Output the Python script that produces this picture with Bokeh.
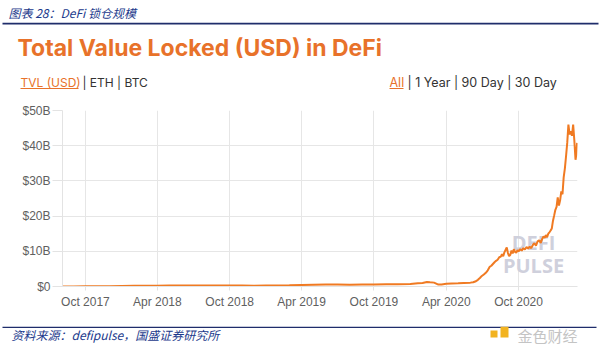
import pandas as pd
from bokeh.plotting import figure
from bokeh.layouts import column
from bokeh.models import Range1d, FixedTicker, Label, BoxAnnotation
from bokeh.embed import file_html
from bokeh.resources import INLINE

# ---- data (TVL in USD billions) ----
dates = [
    "2017-08-04", "2017-09-01", "2017-10-01", "2017-11-01", "2017-12-01",
    "2018-01-01", "2018-02-01", "2018-03-01", "2018-04-01", "2018-05-01",
    "2018-06-01", "2018-07-01", "2018-08-01", "2018-09-01", "2018-10-01",
    "2018-11-01", "2018-12-01", "2019-01-01", "2019-02-01", "2019-03-01",
    "2019-04-01", "2019-05-01", "2019-06-01", "2019-07-01", "2019-08-01",
    "2019-09-01", "2019-10-01", "2019-11-01", "2019-12-01", "2020-01-01",
    "2020-01-20", "2020-02-01", "2020-02-12", "2020-02-20", "2020-03-01",
    "2020-03-12", "2020-03-20", "2020-04-01", "2020-04-15", "2020-05-01",
    "2020-05-15", "2020-06-01", "2020-06-08", "2020-06-15", "2020-06-20",
    "2020-06-25", "2020-06-30", "2020-07-05", "2020-07-10", "2020-07-15",
    "2020-07-20", "2020-07-24", "2020-07-28", "2020-08-01", "2020-08-05",
    "2020-08-09", "2020-08-13", "2020-08-17", "2020-08-20", "2020-08-23",
    "2020-08-26", "2020-08-29", "2020-09-01", "2020-09-04", "2020-09-07",
    "2020-09-10", "2020-09-13", "2020-09-16", "2020-09-19", "2020-09-22",
    "2020-09-25", "2020-09-28", "2020-10-01", "2020-10-05", "2020-10-09",
    "2020-10-13", "2020-10-17", "2020-10-21", "2020-10-25", "2020-10-29",
    "2020-11-02", "2020-11-06", "2020-11-10", "2020-11-14", "2020-11-18",
    "2020-11-22", "2020-11-26", "2020-11-30", "2020-12-03", "2020-12-06",
    "2020-12-09", "2020-12-12", "2020-12-15", "2020-12-18", "2020-12-21",
    "2020-12-24", "2020-12-27", "2020-12-30", "2021-01-02", "2021-01-05",
    "2021-01-08", "2021-01-11", "2021-01-14", "2021-01-17", "2021-01-20",
    "2021-01-23", "2021-01-26", "2021-01-29", "2021-02-01", "2021-02-04",
    "2021-02-07", "2021-02-10", "2021-02-13", "2021-02-16", "2021-02-19",
    "2021-02-22", "2021-02-24", "2021-02-26",
]
tvl_bn = [
    0.02, 0.03, 0.04, 0.05, 0.08,
    0.15, 0.20, 0.22, 0.22, 0.30,
    0.30, 0.30, 0.28, 0.25, 0.28,
    0.25, 0.20, 0.25, 0.30, 0.35,
    0.45, 0.50, 0.55, 0.60, 0.50,
    0.55, 0.60, 0.65, 0.65, 0.70,
    0.90, 1.00, 1.30, 1.20, 1.10,
    0.55, 0.60, 0.75, 0.85, 0.90,
    1.00, 1.10, 1.20, 1.50, 1.90,
    2.40, 3.00, 3.40, 3.90, 4.60,
    5.60, 5.90, 6.40, 6.90, 7.30,
    7.60, 8.30, 8.50, 9.20, 8.60,
    9.70, 10.4, 11.1, 9.50, 8.60,
    9.00, 10.2, 9.40, 10.6, 9.80,
    9.60, 10.3, 10.0, 10.6, 10.2,
    10.9, 10.5, 11.2, 10.8, 11.3,
    10.9, 11.8, 12.3, 11.6, 12.8,
    13.1, 12.4, 13.6, 14.2, 13.8,
    14.6, 14.0, 15.0, 15.4, 15.9,
    16.5, 18.7, 20.2, 21.8, 22.6,
    25.3, 23.0, 24.5, 27.0, 26.2,
    31.0, 33.5, 37.0, 40.8, 46.0,
    43.2, 44.1, 42.8, 46.0, 41.5,
    36.0, 37.5, 40.8,
]
x_tick_dates = ["2017-10-01", "2018-04-01", "2018-10-01", "2019-04-01",
                "2019-10-01", "2020-04-01", "2020-10-01"]
x_tick_labels = ["Oct 2017", "Apr 2018", "Oct 2018", "Apr 2019",
                 "Oct 2019", "Apr 2020", "Oct 2020"]
y_ticks = [0, 10, 20, 30, 40, 50]
y_tick_labels = ["$0", "$10B", "$20B", "$30B", "$40B", "$50B"]

W = 600
TOP_H, MAIN_H, BOT_H = 100, 226, 26
navy = "#1c3a8c"
orange = "#e8722a"


def ms(d):
    return pd.Timestamp(d).value / 1e6


def text_panel(h):
    f = figure(width=W, height=h, output_backend="svg", toolbar_location=None,
               x_axis_location=None, y_axis_location=None,
               min_border=0, min_border_left=0, min_border_right=0,
               min_border_top=0, min_border_bottom=0,
               x_range=Range1d(0, W), y_range=Range1d(0, h))
    f.frame_align = False
    f.outline_line_color = None
    f.xgrid.visible = False
    f.ygrid.visible = False
    f.background_fill_color = "white"
    f.border_fill_color = "white"
    return f


def lab(f, y0, text, x, y, size, color, font="Inter", style="normal",
        align="left"):
    # x, y: page pixels from top-left (y = text baseline); y0 = panel top
    px = float(size.replace("px", ""))
    f.add_layout(Label(x=x, y=f.height - (y - y0) + 0.32 * px,
                       x_units="screen", y_units="screen", text=text,
                       text_font=font, text_font_size=size, text_color=color,
                       text_font_style=style, text_align=align,
                       text_baseline="alphabetic"))


def box(f, y0, l, r, t, b, color):
    f.add_layout(BoxAnnotation(left=l, right=r, top=f.height - (t - y0),
                               bottom=f.height - (b - y0),
                               left_units="screen", right_units="screen",
                               top_units="screen", bottom_units="screen",
                               fill_color=color, fill_alpha=1,
                               line_color=None))


# ---- header panel ----
top = text_panel(TOP_H)
lab(top, 0, "图表 28：DeFi 锁仓规模", 8, 16, "12px", navy,
    font="Noto Sans CJK SC", style="italic")
box(top, 0, 2, 598, 22.3, 24, "#1f2d6b")
lab(top, 0, "Total Value Locked (USD) in DeFi", 17, 55, "23px", orange,
    style="bold")
lab(top, 0, "TVL (USD)", 20, 86, "12px", orange)
box(top, 0, 20, 78, 87.5, 88.5, orange)
lab(top, 0, "|  ETH  |  BTC", 82, 86, "12px", "#333333")
lab(top, 0, "All", 389, 86, "12.5px", orange)
box(top, 0, 389, 403, 87.5, 88.5, orange)
lab(top, 0, "|  1 Year  |  90 Day  |  30 Day", 407, 86, "12.5px", "#333333")

# ---- chart ----
p = figure(width=W, height=MAIN_H, x_axis_type="datetime",
           output_backend="svg", toolbar_location=None,
           min_border_left=62, min_border_right=23,
           min_border_top=10, min_border_bottom=40,
           x_range=Range1d(ms("2017-08-04"), ms("2021-02-27")),
           y_range=Range1d(0, 50))
p.frame_align = False
p.outline_line_color = None
p.background_fill_color = "white"
p.border_fill_color = "white"

xs = pd.to_datetime(dates)
p.line(xs, tvl_bn, line_color="#f07a22", line_width=2)

tick_ms = [ms(d) for d in x_tick_dates]
p.xaxis.ticker = FixedTicker(ticks=tick_ms)
p.xaxis.major_label_overrides = {t: l for t, l in zip(tick_ms, x_tick_labels)}
p.yaxis.ticker = FixedTicker(ticks=y_ticks)
p.yaxis.major_label_overrides = {t: l for t, l in zip(y_ticks, y_tick_labels)}

for ax in (p.xaxis[0], p.yaxis[0]):
    ax.axis_line_color = "#e3e3e3"
    ax.major_tick_line_color = "#e3e3e3"
    ax.minor_tick_line_color = None
    ax.major_label_text_font = "Liberation Sans"
    ax.major_label_text_font_size = "12px"
    ax.major_label_text_color = "#606060"
p.yaxis.major_tick_out = 10
p.yaxis.major_tick_in = 0
p.yaxis.major_label_standoff = 2
p.xaxis.major_tick_out = 4
p.xaxis.major_tick_in = 0
p.xaxis.major_label_standoff = 4
p.xgrid.grid_line_color = "#e6e6e6"
p.ygrid.grid_line_color = "#e6e6e6"

# DeFi Pulse watermark inside the plot frame (frame-relative screen units)
for word, dy in (("DEFI", 44), ("PULSE", 21)):
    p.add_layout(Label(x=471, y=dy, x_units="screen", y_units="screen",
                       text=word, text_font="Open Sans", text_font_size="20px",
                       text_font_style="bold", text_color="#cfd0dc",
                       text_align="center", text_baseline="middle",
                       level="underlay"))

# ---- footer panel ----
Y0 = TOP_H + MAIN_H
bot = text_panel(BOT_H)
box(bot, Y0, 2, 596, 326, 327.5, "#1f2d6b")
lab(bot, Y0, "资料来源：defipulse，国盛证券研究所", 11, 338, "12px", navy,
    font="Noto Sans CJK SC", style="italic")
box(bot, Y0, 490, 497, 330, 337, "#f2b320")
box(bot, Y0, 500, 508, 326, 337, "#f2b320")
lab(bot, Y0, "金色财经", 517, 340, "15px", "#c4c4c4", font="Noto Sans CJK SC")

layout = column(top, p, bot, spacing=0)
open("out.html", "w").write(file_html(layout, INLINE))
